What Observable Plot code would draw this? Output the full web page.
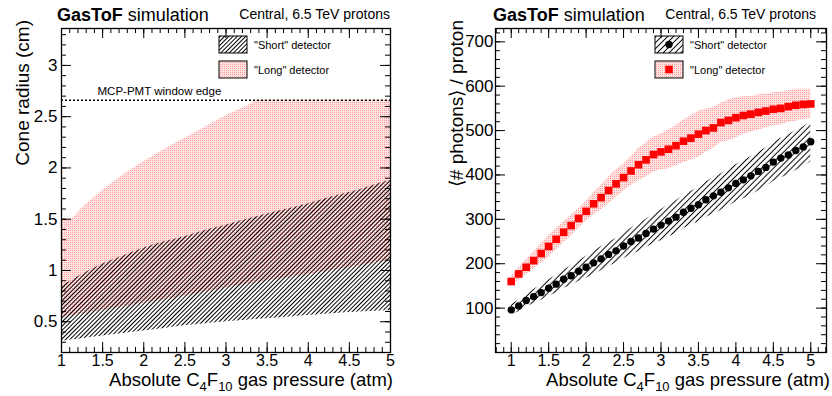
<!DOCTYPE html>
<html><head><meta charset="utf-8">
<script src="https://cdn.jsdelivr.net/npm/d3@7"></script>
<script src="https://cdn.jsdelivr.net/npm/@observablehq/plot@0.6"></script>
<style>
body{margin:0;background:#fff;}
#wrap{display:flex;width:832px;height:396px;}
#wrap svg{display:block;}
</style></head><body><div id="wrap"></div>
<script>
// ---------- Left panel data: cone radius bands (cm) vs pressure (atm)
const pressureL = [1, 1.1, 1.25, 1.5, 1.75, 2, 2.25, 2.5, 2.75, 3, 3.25, 3.4, 3.5, 3.75, 4, 4.25, 4.5, 4.75, 5];
const longHi  = [1.50, 1.50, 1.61, 1.78, 1.93, 2.06, 2.18, 2.29, 2.40, 2.51, 2.60, 2.66, 2.66, 2.66, 2.66, 2.66, 2.66, 2.66, 2.66];
const longLo  = [0.54, 0.555, 0.575, 0.61, 0.645, 0.68, 0.715, 0.75, 0.79, 0.83, 0.865, 0.885, 0.90, 0.93, 0.96, 0.995, 1.03, 1.065, 1.10];
const shortHi = [0.85, 0.89, 0.96, 1.06, 1.14, 1.22, 1.28, 1.33, 1.39, 1.44, 1.50, 1.53, 1.55, 1.60, 1.65, 1.71, 1.76, 1.82, 1.88];
const shortLo = [0.31, 0.32, 0.335, 0.36, 0.385, 0.41, 0.435, 0.46, 0.48, 0.50, 0.515, 0.525, 0.53, 0.545, 0.56, 0.575, 0.59, 0.60, 0.61];
const mcpEdge = 2.66;

// ---------- Right panel data: <# photons> / proton vs pressure
const pressureR = [1.0,1.1,1.2,1.3,1.4,1.5,1.6,1.7,1.8,1.9,2.0,2.1,2.2,2.3,2.4,2.5,2.6,2.7,2.8,2.9,3.0,
                   3.1,3.2,3.3,3.4,3.5,3.6,3.7,3.8,3.9,4.0,4.1,4.2,4.3,4.4,4.5,4.6,4.7,4.8,4.9,5.0];
const longPhotons = [160,177,192,207,223,239,255,271,286,302,318,335,349,365,380,394,409,423,434,446,452,
                     458,466,476,483,492,500,506,518,523,529,534,537,541,544,548,550,554,557,559,560];
const longErr = [12,14,17,19,22,24,24,23,24,22,22,25,28,30,31,30,32,36,38,40,40,
                 44,45,48,50,52,48,46,44,46,45,42,40,40,38,37,37,36,36,34,33];
const shortPhotons = [96,105,117,126,135,145,154,165,173,183,192,202,211,221,229,240,250,258,268,278,287,
                      296,305,316,325,333,344,353,361,371,381,389,398,408,417,429,438,445,455,463,475];
const shortErr = [12,13,14,16,17,19,20,21,22,23,25,26,27,27,28,29,30,31,32,33,35,
                  36,37,37,38,39,40,41,41,42,42,43,43,44,44,44,45,45,45,45,45];

// ---------- Tick labels
const xTicks = [1, 1.5, 2, 2.5, 3, 3.5, 4, 4.5, 5];
const yTicksL = [0.5, 1, 1.5, 2, 2.5, 3];
const yTicksR = [100, 200, 300, 400, 500, 600, 700];

// ---------- Texts
const titleBold = "GasToF", titleRest = " simulation";
const subtitle = "Central, 6.5 TeV protons";
const yTitleL = "Cone radius (cm)";
const yTitleR = "\u27E8# photons\u27E9 / proton";
const legShort = "\"Short\" detector", legLong = "\"Long\" detector";
const mcpLabel = "MCP-PMT window edge";

const FONT = '"Liberation Sans", Arial, Helvetica, sans-serif';
const W = 416, H = 396, MT = 28, MB = 44;

const rowsL = pressureL.map((p, i) => ({p, longHi: longHi[i], longLo: longLo[i], shortHi: shortHi[i], shortLo: shortLo[i]}));
const rowsR = pressureR.map((p, i) => ({p, long: longPhotons[i], le: longErr[i], short: shortPhotons[i], se: shortErr[i]}));

function range(a, b, s) { const out = []; for (let v = a; v <= b + 1e-9; v += s) out.push(+v.toFixed(4)); return out; }
const fmt = d => String(d);

function tickMarks(xMaj, xMin, yMaj, yMin, fw, fh) {
  const big = 10, small = 5, o = {stroke: "black", strokeWidth: 1};
  return [
    Plot.tickX(xMaj, {x: d => d, insetTop: fh - big, ...o}),
    Plot.tickX(xMaj, {x: d => d, insetBottom: fh - big, ...o}),
    Plot.tickX(xMin, {x: d => d, insetTop: fh - small, ...o}),
    Plot.tickX(xMin, {x: d => d, insetBottom: fh - small, ...o}),
    Plot.tickY(yMaj, {y: d => d, insetRight: fw - big, ...o}),
    Plot.tickY(yMaj, {y: d => d, insetLeft: fw - big, ...o}),
    Plot.tickY(yMin, {y: d => d, insetRight: fw - small, ...o}),
    Plot.tickY(yMin, {y: d => d, insetLeft: fw - small, ...o})
  ];
}

function addDefs(svg, suffix, hatchW) {
  const defs = svg.insert("defs", ":first-child");
  const h = defs.append("pattern").attr("id", "hatch" + suffix).attr("patternUnits", "userSpaceOnUse")
    .attr("width", hatchW).attr("height", hatchW).attr("patternTransform", "rotate(45)");
  h.append("line").attr("x1", hatchW / 2).attr("x2", hatchW / 2).attr("y1", 0).attr("y2", hatchW)
    .attr("stroke", "black").attr("stroke-width", 1);
  const p = defs.append("pattern").attr("id", "pink" + suffix).attr("patternUnits", "userSpaceOnUse")
    .attr("width", 2).attr("height", 2);
  p.append("rect").attr("width", 2).attr("height", 2).attr("fill", "#ffe2e2");
  p.append("rect").attr("width", 1).attr("height", 1).attr("fill", "#ff9c9c");
}

function txt(svg, x, y, size, anchor) {
  return svg.append("text").attr("x", x).attr("y", y).attr("font-size", size)
    .attr("text-anchor", anchor).attr("fill", "black").attr("font-family", FONT);
}

function addTexts(svg, o) {
  const t = txt(svg, o.titleX, 21, 18, "start");
  t.append("tspan").attr("font-weight", "bold").text(titleBold);
  t.append("tspan").text(titleRest);
  txt(svg, o.subX, 19, 14, "end").text(subtitle);
  svg.append("text").attr("transform", `translate(${o.yTitleX},20) rotate(-90)`).attr("text-anchor", "end")
    .attr("font-family", FONT).attr("font-size", 19).attr("fill", "black").text(o.yTitle);
  const xt = txt(svg, o.xTitleX, 386, 18.5, "end");
  xt.append("tspan").text("Absolute C");
  xt.append("tspan").attr("dy", 5).attr("font-size", 13).text("4");
  xt.append("tspan").attr("dy", -5).text("F");
  xt.append("tspan").attr("dy", 5).attr("font-size", 13).text("10");
  xt.append("tspan").attr("dy", -5).text(" gas pressure (atm)");
}

function addLegend(svg, o, suffix, markers) {
  const bx = o.legX, bw = 28, bh = 17;
  svg.append("rect").attr("x", bx).attr("y", 36).attr("width", bw).attr("height", bh)
    .attr("fill", `url(#hatch${suffix})`).attr("stroke", "black").attr("stroke-width", 1);
  svg.append("rect").attr("x", bx).attr("y", 61).attr("width", bw).attr("height", bh)
    .attr("fill", `url(#pink${suffix})`).attr("stroke", "black").attr("stroke-width", 1);
  if (markers) {
    svg.append("circle").attr("cx", bx + bw / 2).attr("cy", 36 + bh / 2).attr("r", 3.7).attr("fill", "black");
    svg.append("rect").attr("x", bx + bw / 2 - 3.8).attr("y", 61 + bh / 2 - 3.8).attr("width", 7.6).attr("height", 7.6).attr("fill", "#ff0000");
  }
  txt(svg, bx + 35, 48.5, 11, "start").text(legShort);
  txt(svg, bx + 35, 73.5, 11, "start").text(legLong);
}

// ================= LEFT =================
{
  const ML = 61, MR = 26;
  const fw = W - ML - MR, fh = H - MT - MB;
  const xd = [1, 5], yd = [0.2, 3.36];
  const plot = Plot.plot({
    width: W, height: H, marginLeft: ML, marginRight: MR, marginTop: MT, marginBottom: MB,
    style: {fontFamily: FONT, background: "white", color: "black", overflow: "visible"},
    x: {domain: xd}, y: {domain: yd},
    marks: [
      Plot.areaY(rowsL, {x: "p", y1: "longLo", y2: "longHi", fill: "url(#pinkL)", curve: "monotone-x"}),
      Plot.areaY(rowsL, {x: "p", y1: "shortLo", y2: "shortHi", fill: "url(#hatchL)", curve: "monotone-x"}),
      Plot.ruleY([mcpEdge], {stroke: "black", strokeWidth: 1.6, strokeDasharray: "2,2"}),
      Plot.text([mcpLabel], {text: d => d, y: () => mcpEdge, frameAnchor: "left", dx: 36, dy: -9, textAnchor: "start", fontSize: 11.5, fill: "black"}),
      ...tickMarks(xTicks, range(1, 5, 0.1), yTicksL, range(0.2, 3.3, 0.1), fw, fh),
      Plot.axisX(xTicks, {tickSize: 0, tickPadding: 2.5, fontSize: 16, label: null, tickFormat: fmt}),
      Plot.axisY(yTicksL, {tickSize: 0, tickPadding: 4, fontSize: 17, label: null, tickFormat: fmt}),
      Plot.frame({stroke: "black", strokeWidth: 1.3})
    ]
  });
  const svg = d3.select(plot);
  addDefs(svg, "L", 3);
  addTexts(svg, {titleX: 57, subX: 390, yTitleX: 29, yTitle: yTitleL, xTitleX: 393});
  addLegend(svg, {legX: 219}, "L", false);
  document.getElementById("wrap").append(plot);
}

// ================= RIGHT =================
{
  const ML = 79, MR = 6;
  const fw = W - ML - MR, fh = H - MT - MB;
  const xd = [0.79, 5.21], yd = [0, 730];
  const plot = Plot.plot({
    width: W, height: H, marginLeft: ML, marginRight: MR, marginTop: MT, marginBottom: MB,
    style: {fontFamily: FONT, background: "white", color: "black", overflow: "visible"},
    x: {domain: xd}, y: {domain: yd},
    marks: [
      Plot.areaY(rowsR, {x: "p", y1: d => d.long - d.le, y2: d => d.long + d.le, fill: "url(#pinkR)"}),
      Plot.areaY(rowsR, {x: "p", y1: d => d.short - d.se, y2: d => d.short + d.se, fill: "url(#hatchR)"}),
      Plot.dot(rowsR, {x: "p", y: "short", r: 3.7, fill: "black", symbol: "circle"}),
      Plot.dot(rowsR, {x: "p", y: "long", r: 4.3, fill: "#ff0000", symbol: "square"}),
      ...tickMarks(xTicks, range(0.8, 5.2, 0.1), yTicksR, range(20, 720, 20), fw, fh),
      Plot.axisX(xTicks, {tickSize: 0, tickPadding: 2.5, fontSize: 16, label: null, tickFormat: fmt}),
      Plot.axisY(yTicksR, {tickSize: 0, tickPadding: 2, fontSize: 17, label: null, tickFormat: fmt}),
      Plot.frame({stroke: "black", strokeWidth: 1.3})
    ]
  });
  const svg = d3.select(plot);
  addDefs(svg, "R", 4.2);
  addTexts(svg, {titleX: 77, subX: 400, yTitleX: 47, yTitle: yTitleR, xTitleX: 414});
  addLegend(svg, {legX: 239}, "R", true);
  document.getElementById("wrap").append(plot);
}
</script></body></html>
